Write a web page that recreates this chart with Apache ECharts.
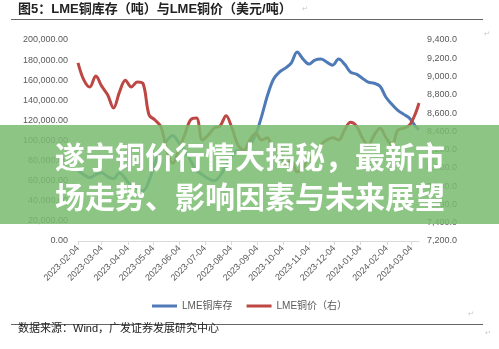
<!DOCTYPE html>
<html>
<head>
<meta charset="utf-8">
<script src="https://cdn.jsdelivr.net/npm/echarts@6/dist/echarts.min.js"></script>
<style>
  html, body { margin: 0; padding: 0; background: #ffffff; }
  #chart { width: 499px; height: 349px; }
</style>
</head>
<body>
<div id="chart"></div>
<script>
// LME copper: warehouse stocks (t, left axis) and price (USD/t, right axis)
const titleText = '图5：LME铜库存（吨）与LME铜价（美元/吨）';
const sourceText = '数据来源：Wind，广发证券发展研究中心';
const bannerLines = ['遂宁铜价行情大揭秘，最新市', '场走势、影响因素与未来展望'];
const seriesNames = ['LME铜库存', 'LME铜价（右）'];

const firstDay = '2023-02-04';
const lastDay = '2024-03-13';

const sampleDates = [
  '2023-02-04','2023-02-11','2023-02-18','2023-02-25','2023-03-04','2023-03-11','2023-03-18','2023-03-25',
  '2023-04-01','2023-04-08','2023-04-15','2023-04-22','2023-04-29','2023-05-06','2023-05-13','2023-05-20',
  '2023-05-27','2023-06-03','2023-06-10','2023-06-17','2023-06-24','2023-07-01','2023-07-08','2023-07-15',
  '2023-07-22','2023-07-29','2023-08-05','2023-08-12','2023-08-19','2023-08-26','2023-09-02','2023-09-09',
  '2023-09-16','2023-09-23','2023-09-30','2023-10-07','2023-10-14','2023-10-21','2023-10-28','2023-11-04',
  '2023-11-11','2023-11-18','2023-11-25','2023-12-02','2023-12-09','2023-12-16','2023-12-23','2023-12-30',
  '2024-01-06','2024-01-13','2024-01-20','2024-01-27','2024-02-03','2024-02-10','2024-02-17','2024-02-24',
  '2024-03-02','2024-03-09','2024-03-13'
];

const stockValues = [
  70000, 66000, 63000, 66000, 68000, 64000, 62000, 68000,
  62000, 55000, 52000, 50000, 60000, 78000, 92000, 100000,
  105000, 98000, 90000, 80000, 70000, 66000, 62000, 60000,
  65000, 75000, 85000, 90000, 88000, 95000, 106000, 124000,
  145000, 161000, 168000, 172000, 177000, 188000, 181000, 176000,
  180000, 181000, 178000, 175000, 181000, 176000, 168000, 166000,
  162000, 158000, 157000, 154000, 143000, 136000, 130000, 126000,
  122000, 114000, 111000
];

const priceValues = [
  9150, 8960, 8885, 9005, 8895, 8800, 8655, 8830,
  8960, 8885, 8940, 8920, 8580, 8525, 8450, 8195,
  8050, 8195, 8360, 8525, 8545, 8305, 8360, 8435,
  8460, 8570, 8435, 8250, 8195, 8305, 8380, 8305,
  8330, 8195, 8195, 8030, 8085, 7955, 8000, 8110,
  8085, 8250, 8305, 8330, 8305, 8415, 8500, 8460,
  8330, 8250, 8360, 8435, 8330, 8250, 8415, 8435,
  8470, 8600, 8710
];

// daily category axis so that monthly ticks fall on the 4th of each month
function dayRange(a, b) {
  const out = [];
  const d = new Date(a + 'T00:00:00Z');
  const end = new Date(b + 'T00:00:00Z');
  while (d <= end) {
    out.push(d.toISOString().slice(0, 10));
    d.setUTCDate(d.getUTCDate() + 1);
  }
  return out;
}
const days = dayRange(firstDay, lastDay);
const isMonthTick = (i, v) => v.slice(8) === '04';

const pairs = vals => sampleDates.map((d, i) => [d, vals[i]]);

const fmt = digits => v => v.toLocaleString('en-US', { minimumFractionDigits: digits, maximumFractionDigits: digits });

const FONT = '"Liberation Sans", Arial, "Noto Sans CJK SC", sans-serif';
const GREY = '#595959';
const BLUE = '#4E7AB7';
const RED = '#BC4743';

const chart = echarts.init(document.getElementById('chart'), null, { renderer: 'canvas' });

chart.setOption({
  backgroundColor: '#ffffff',
  animation: false,
  textStyle: { fontFamily: FONT },
  grid: { left: 78, right: 80, top: 40, bottom: 108, containLabel: false },
  legend: {
    left: 147, top: 296,
    icon: 'rect', itemWidth: 25, itemHeight: 3, itemGap: 14,
    textStyle: { fontSize: 10, color: GREY, fontFamily: FONT },
    data: seriesNames
  },
  xAxis: {
    type: 'category',
    data: days,
    boundaryGap: false,
    axisLine: { lineStyle: { color: '#d9d9d9', width: 1 } },
    axisTick: { interval: isMonthTick, length: 4, lineStyle: { color: '#d9d9d9' } },
    axisLabel: { interval: isMonthTick, rotate: 45, fontSize: 9, color: GREY, margin: 6 },
    splitLine: { show: false }
  },
  yAxis: [
    {
      type: 'value', min: 0, max: 200000, interval: 20000,
      axisLine: { show: false }, axisTick: { show: false }, splitLine: { show: false },
      axisLabel: { formatter: fmt(2), fontSize: 9, color: GREY, margin: 10 }
    },
    {
      type: 'value', min: 7200, max: 9400, interval: 200, position: 'right',
      axisLine: { show: false }, axisTick: { show: false }, splitLine: { show: false },
      axisLabel: { formatter: fmt(1), fontSize: 9, color: GREY, margin: 8 }
    }
  ],
  series: [
    {
      name: seriesNames[0], type: 'line', yAxisIndex: 0,
      data: pairs(stockValues), smooth: 0.35, showSymbol: false,
      lineStyle: { color: BLUE, width: 3 }, itemStyle: { color: BLUE }
    },
    {
      name: seriesNames[1], type: 'line', yAxisIndex: 1,
      data: pairs(priceValues), smooth: 0.35, showSymbol: false,
      lineStyle: { color: RED, width: 3 }, itemStyle: { color: RED }
    }
  ],
  graphic: [
    { type: 'text', left: 18, top: 3, z: 10,
      style: { text: titleText, font: 'bold 13px ' + FONT, fill: '#222222' } },
    { type: 'text', left: 302, top: 6, z: 10,
      style: { text: '↵', font: '7px ' + FONT, fill: '#c8c8c8' } },
    { type: 'line', z: 10, shape: { x1: 11, y1: 19.5, x2: 483, y2: 19.5 },
      style: { stroke: '#666666', lineWidth: 1 } },
    { type: 'text', left: 484, top: 31, z: 10,
      style: { text: '↵', font: '7px ' + FONT, fill: '#c8c8c8' } },
    { type: 'text', left: 468, top: 311, z: 10,
      style: { text: '↵', font: '7px ' + FONT, fill: '#c8c8c8' } },
    { type: 'line', z: 10, shape: { x1: 11, y1: 324.5, x2: 483, y2: 324.5 },
      style: { stroke: '#666666', lineWidth: 1 } },
    { type: 'text', left: 18, top: 323, z: 10,
      style: { text: sourceText, font: '11px ' + FONT, fill: '#222222' } },
    { type: 'text', left: 485, top: 330, z: 10,
      style: { text: '↵', font: '7px ' + FONT, fill: '#c8c8c8' } },
    // translucent banner with headline
    { type: 'rect', z: 100, shape: { x: 0, y: 125, width: 499, height: 99 },
      style: { fill: 'rgba(122,189,112,0.86)' } },
    { type: 'text', z: 101, x: 250, y: 157,
      style: { text: bannerLines[0], font: 'bold 30px "Noto Sans CJK SC", sans-serif', fill: '#ffffff',
               align: 'center', verticalAlign: 'middle' } },
    { type: 'text', z: 101, x: 250, y: 197,
      style: { text: bannerLines[1], font: 'bold 30px "Noto Sans CJK SC", sans-serif', fill: '#ffffff',
               align: 'center', verticalAlign: 'middle' } }
  ]
});
</script>
</body>
</html>
